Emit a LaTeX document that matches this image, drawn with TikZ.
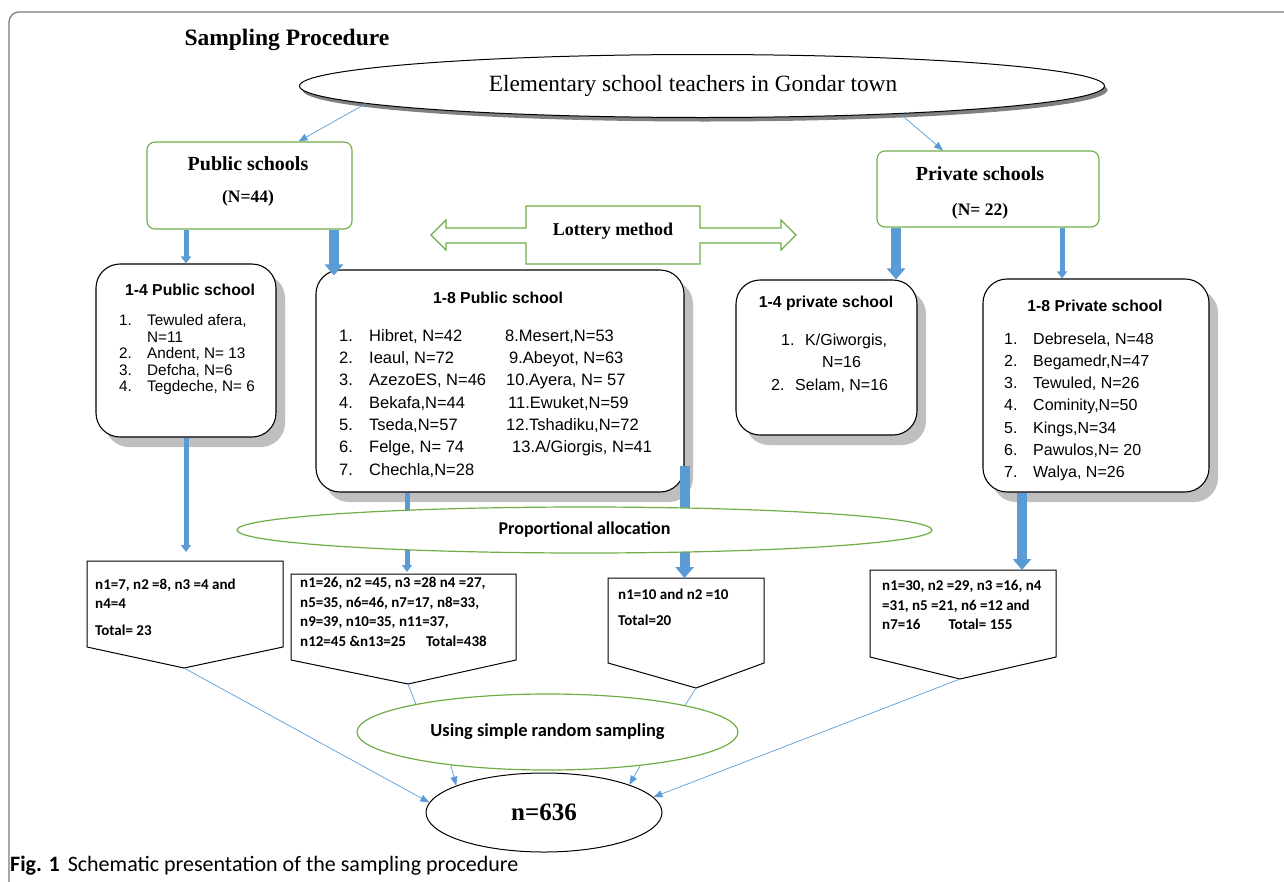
\documentclass[tikz,border=0pt]{standalone}
\usepackage{fontspec}
\setmainfont{Liberation Serif}
\setsansfont{Liberation Sans}
\newfontfamily\calibrifont{Carlito}
\usetikzlibrary{arrows.meta, shapes.geometric, shadows, positioning}
\definecolor{leaf}{RGB}{112, 173, 71}
\definecolor{sky}{RGB}{91, 155, 213}
\definecolor{framegray}{RGB}{120, 120, 120}
\definecolor{shade}{RGB}{191, 191, 191}

\tikzset{
  greenbox/.style={draw=leaf, line width=1.1pt, rounded corners=8pt, fill=white, inner sep=0pt},
  schoolbox/.style={draw=black, line width=1.1pt, rounded corners=24pt, fill=white, inner sep=0pt,
    drop shadow={shadow xshift=9pt, shadow yshift=-10pt, fill=shade, opacity=1}},
  greenoval/.style={ellipse, draw=leaf, line width=1.2pt, fill=white, inner sep=0pt},
  fatarrow/.style={draw=sky, line width=10pt, -{Triangle[width=18pt, length=11pt]}},
  slimarrow/.style={draw=sky, line width=5pt, -{Triangle[width=10pt, length=7pt]}},
  feed/.style={draw=sky, line width=0.7pt},
  feedarrow/.style={feed, -{Triangle[width=7pt, length=9pt]}},
  heading/.style={font=\sffamily\bfseries\fontsize{15.8}{18}\selectfont},
  listing/.style={anchor=north west, inner sep=0pt},
  tally/.style={font=\calibrifont\bfseries\fontsize{15}{19.5}\selectfont, anchor=north west, inner sep=0pt, align=left},
  allocbox/.style={draw=black, line width=1pt}
}

\begin{document}
\begin{tikzpicture}[x=1pt, y=-1pt]
  \useasboundingbox (0,0) rectangle (1284,881);
  % frame round the figure
  \draw [framegray, line width=1.2pt, rounded corners=10pt] (9,895) -- (9,12) -- (1300,12);
  \node[anchor=west, font=\bfseries\fontsize{23.5}{23.5}\selectfont] (title) at (181,40) {Sampling Procedure};

  \node[ellipse, draw=black, line width=1pt, fill=white, minimum width=805pt, minimum height=63pt, inner sep=0pt,
    drop shadow={shadow xshift=3pt, shadow yshift=-4pt, fill=black!50, opacity=1},
    font=\fontsize{23.3}{23.3}\selectfont] (town) at (702,86) {Elementary school teachers in Gondar town\hspace*{18pt}};

  % public / private
  \node[greenbox, minimum width=205pt, minimum height=87pt] (pubs) at (249.5,185.5) {};
  \node[font=\bfseries\fontsize{20}{20}\selectfont] (pubsname) at (248,164) {Public schools};
  \node[font=\bfseries\fontsize{17.5}{17.5}\selectfont] (pubsN) at (248,198) {(N=44)};

  \node[greenbox, minimum width=222pt, minimum height=76pt] (privs) at (988,189) {};
  \node[font=\bfseries\fontsize{20}{20}\selectfont] (privsname) at (980,174) {Private schools};
  \node[font=\bfseries\fontsize{17.5}{17.5}\selectfont] (privsN) at (980,211) {(N= 22)};

  \draw [feedarrow] (town.183) -- ([xshift=49pt]pubs.north);
  \draw [feedarrow] (town.352) -- ([xshift=-45pt]privs.north);

  % lottery
  \draw [leaf, line width=1.2pt] (526,206) -- (700,206) -- (700,228) -- (781,228) -- (781,220) -- (796,235)
    -- (781,250) -- (781,243) -- (700,243) -- (700,264) -- (526,264) -- (526,243) -- (446,243)
    -- (446,250) -- (431,235) -- (446,220) -- (446,228) -- (526,228) -- cycle;
  \node[font=\bfseries\fontsize{18}{18}\selectfont] (lottery) at (613,231) {Lottery method};

  % school lists
  \node[schoolbox, minimum width=180pt, minimum height=173pt] (pub14) at (186,350.5) {};
  \node[heading] (pub14name) at (190,290) {1-4 Public school};
  \node[listing, font=\sffamily\fontsize{15.3}{16.5}\selectfont] (pub14list) at (119,314) {%
    \begin{tabular}{@{}p{28pt}@{}l@{}}
    1. & Tewuled afera,\\
       & N=11\\
    2. & Andent, N= 13\\
    3. & Defcha, N=6\\
    4. & Tegdeche, N= 6
    \end{tabular}};

  \node[schoolbox, minimum width=368pt, minimum height=222pt] (pub18) at (500,381) {};
  \node[heading] (pub18name) at (498,298) {1-8 Public school};
  \node[listing, font=\sffamily\fontsize{16.5}{22.3}\selectfont] (pub18list) at (339,325.5) {%
    \begin{tabular}{@{}p{30pt}@{}p{136pt}@{}l@{}}
    1. & Hibret, N=42 & 8.Mesert,N=53\\
    2. & Ieaul, N=72 & \hspace*{4pt}9.Abeyot, N=63\\
    3. & AzezoES, N=46 & \hspace*{1pt}10.Ayera, N= 57\\
    4. & Bekafa,N=44 & \hspace*{3pt}11.Ewuket,N=59\\
    5. & Tseda,N=57 & \hspace*{1pt}12.Tshadiku,N=72\\
    6. & Felge, N= 74 & \hspace*{7pt}13.A/Giorgis, N=41\\
    7. & Chechla,N=28 &
    \end{tabular}};

  \node[schoolbox, minimum width=181pt, minimum height=155pt] (priv14) at (826.5,357.5) {};
  \node[heading] (priv14name) at (826,303) {1-4 private school};
  \node[listing, font=\sffamily\fontsize{16}{22.5}\selectfont] (priv14list) at (781,329.5) {%
    \begin{tabular}{@{}p{24pt}@{}l@{}}
    1. & K/Giworgis,\\
       & \hspace*{17pt}N=16\\
    \hspace*{-10pt}2. & \hspace*{-10pt}Selam, N=16
    \end{tabular}};

  \node[schoolbox, minimum width=226pt, minimum height=213pt] (priv18) at (1096,385.5) {};
  \node[heading] (priv18name) at (1095,306) {1-8 Private school};
  \node[listing, font=\sffamily\fontsize{16}{22.2}\selectfont] (priv18list) at (1004,328.5) {%
    \begin{tabular}{@{}p{29pt}@{}l@{}}
    1. & Debresela, N=48\\
    2. & Begamedr,N=47\\
    3. & Tewuled, N=26\\
    4. & Cominity,N=50\\
    5. & Kings,N=34\\
    6. & Pawulos,N= 20\\
    7. & Walya, N=26
    \end{tabular}};

  % block arrows
  \coordinate (pubsL) at ([xshift=-63.5pt]pubs.south);
  \coordinate (pubsR) at ([xshift=84.5pt]pubs.south);
  \coordinate (privsL) at ([xshift=-92pt]privs.south);
  \coordinate (privsR) at ([xshift=74pt]privs.south);
  \draw [slimarrow] (pubsL) -- (pub14.north);
  \draw [fatarrow, shorten >=-6pt] (pubsR) -- (pubsR |- pub18.north);
  \draw [fatarrow] (privsL) -- (privsL |- priv14.north);
  \draw [slimarrow] (privsR) -- (privsR |- priv18.north);

  % allocation boxes
  \draw [allocbox] (87,561) coordinate (allocA) -- (283,561) -- (283,647) -- (184,668) coordinate (tipA) -- (87,647) -- cycle;
  \draw [allocbox] (291,574) coordinate (allocB) -- (516,574) -- (516,660) -- (408,684) coordinate (tipB) -- (291,660) -- cycle;
  \draw [allocbox] (608,578) coordinate (allocC) -- (764,578) -- (764,663) -- (696,688) coordinate (tipC) -- (608,663) -- cycle;
  \draw [allocbox] (870,570) coordinate (allocD) -- (1056,570) -- (1056,657) -- (960,679) coordinate (tipD) -- (870,657) -- cycle;

  \coordinate (pub18L) at ([xshift=-93pt]pub18.south);
  \coordinate (pub18R) at ([yshift=-85pt]pub18.east);
  \coordinate (priv18L) at ([xshift=-74pt]priv18.south);
  \draw [slimarrow, shorten >=9pt] (pub14.south) -- (pub14.south |- allocA);
  \draw [slimarrow, shorten >=2pt] (pub18L) -- (pub18L |- allocB);
  \draw [fatarrow] (pub18R) -- (pub18R |- allocC);
  \draw [fatarrow] (priv18L) -- (priv18L |- allocD);

  \node[greenoval, minimum width=695pt, minimum height=46pt, font=\calibrifont\bfseries\fontsize{18}{18}\selectfont] (propalloc) at (584.5,530) {Proportional allocation};

  \node[tally] (tallyA) at (95,578.5) {n1=7, n2 =8, n3 =4 and\\ n4=4\\[7pt] Total= 23};
  \node[tally] (tallyB) at (300,577) {n1=26, n2 =45, n3 =28 n4 =27,\\ n5=35, n6=46, n7=17, n8=33,\\ n9=39, n10=35, n11=37,\\ n12=45 \&n13=25\hspace{20pt}Total=438};
  \node[tally] (tallyC) at (618,588.5) {n1=10 and n2 =10\\[7pt] Total=20};
  \node[tally] (tallyD) at (882,580.5) {n1=30, n2 =29, n3 =16, n4\\ =31, n5 =21, n6 =12 and\\ n7=16\hspace{28pt}Total= 155};

  % sampling
  \node[greenoval, minimum width=381pt, minimum height=76pt, font=\calibrifont\bfseries\fontsize{18.4}{18.4}\selectfont] (srs) at (547.5,732) {Using simple random sampling};
  \node[ellipse, draw=black, line width=1pt, minimum width=236pt, minimum height=79pt, inner sep=0pt,
    font=\bfseries\fontsize{25}{25}\selectfont] (n636) at (544,812.5) {n=636};

  \draw [feed] (tipB) -- (srs.168);
  \draw [feed] (tipC) -- (srs.11);
  \draw [feedarrow] (srs.199) -- (n636.163);
  \draw [feedarrow] (srs.340) -- (n636.18);
  \draw [feedarrow] (tipA) -- (n636.175);
  \draw [feedarrow] (tipD) -- (n636.8);

  \node[anchor=west, inner sep=0pt, font=\calibrifont\fontsize{22}{22}\selectfont] (caption) at (10,866)
    {\textbf{Fig. 1}\hspace{8pt}Schematic presentation of the sampling procedure};
\end{tikzpicture}
\end{document}
